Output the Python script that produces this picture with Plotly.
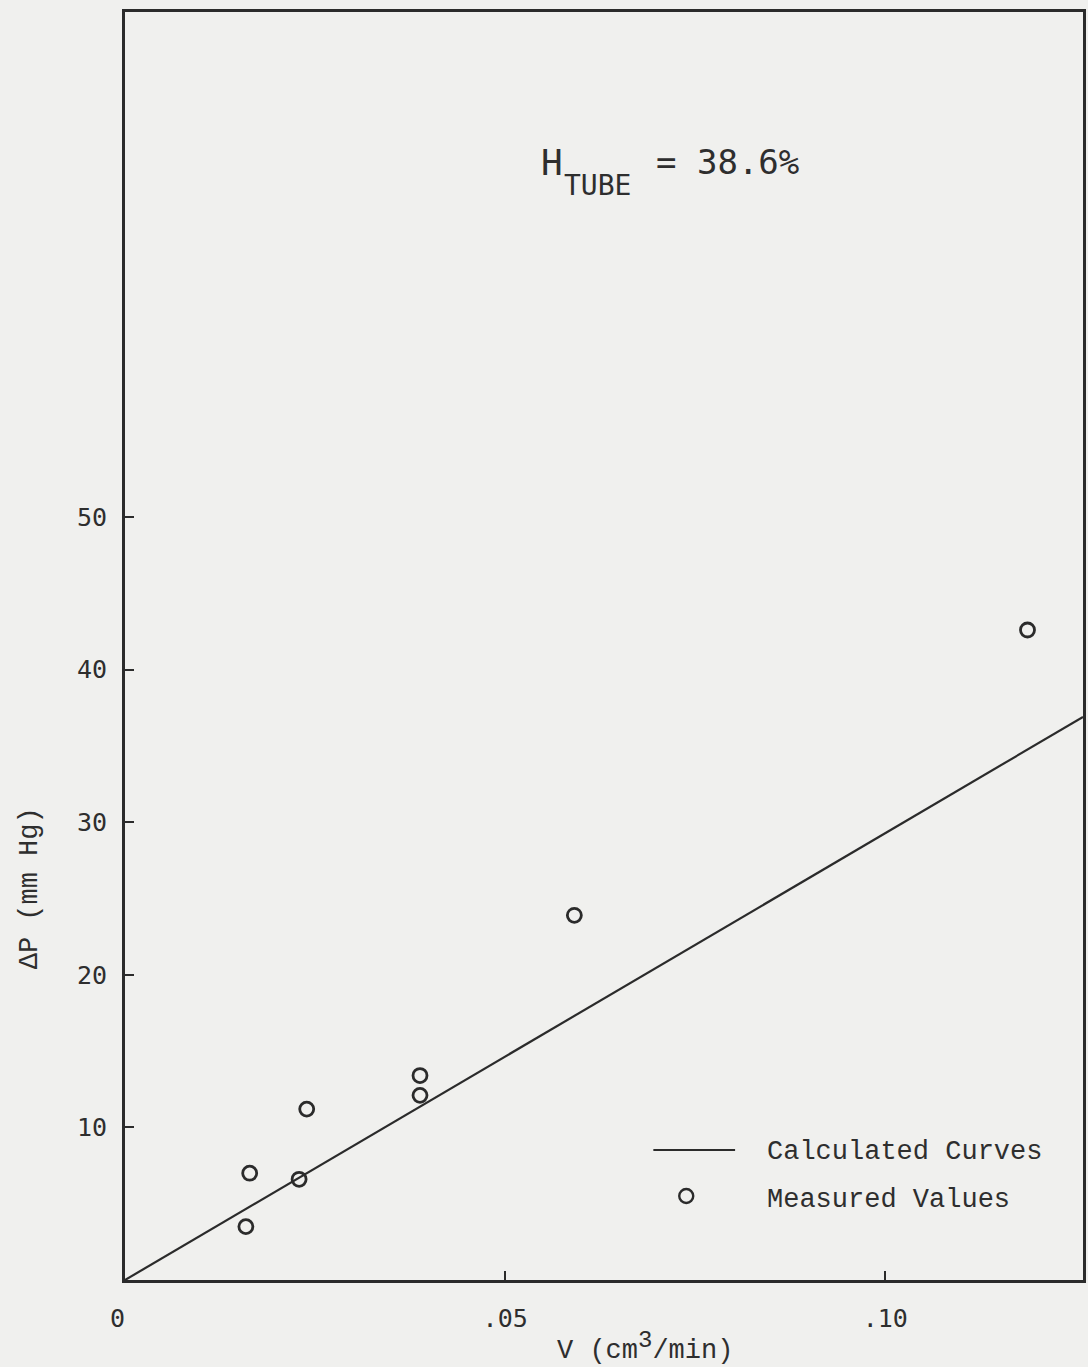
import plotly.graph_objects as go

# ---- data ----
v_measured = [0.0164, 0.0159, 0.0229, 0.0239, 0.0388, 0.0388, 0.0591, 0.1187]
dp_measured = [7.0, 3.5, 6.6, 11.2, 13.4, 12.1, 23.9, 42.6]
v_calc = [0.0, 0.126]
dp_calc = [0.0, 36.9]
x_tickvals = [0.0, 0.05, 0.10]
x_ticktext = ["0\u00a0", ".05", ".10"]
y_tickvals = [10, 20, 30, 40, 50]
y_ticktext = ["10", "20", "30", "40", "50"]

INK = "#2b2b2b"
TXT = "#2e2e2e"
PAPER = "#f0f0ee"
W, H = 1088, 1367
L, R, T, B = 125, 2, 12, 87
PW, PH = W - L - R, H - T - B

def px(x):
    return (x - L) / PW

def py(y):
    return (H - B - y) / PH

fig = go.Figure()
fig.add_trace(go.Scatter(x=v_calc, y=dp_calc, mode="lines",
                         line=dict(color=INK, width=2.2),
                         showlegend=False, hoverinfo="skip"))
fig.add_trace(go.Scatter(x=v_measured, y=dp_measured, mode="markers",
                         marker=dict(symbol="circle-open", size=14,
                                     color=INK, line=dict(color=INK, width=2.8)),
                         showlegend=False))

mono = "DejaVu Sans Mono"
serif = "Liberation Mono"

fig.update_layout(
    width=W, height=H,
    margin=dict(l=L, r=R, t=T, b=B),
    paper_bgcolor=PAPER, plot_bgcolor=PAPER,
    showlegend=False,
    xaxis=dict(range=[0, 0.126], showgrid=False, zeroline=False,
               showline=True, linecolor=INK, linewidth=2.8, mirror=True,
               ticks="inside", ticklen=9, tickwidth=2, tickcolor=INK,
               tickvals=x_tickvals, ticktext=x_ticktext,
               tickfont=dict(family=mono, size=25, color=TXT),
               ticklabelstandoff=14),
    yaxis=dict(range=[0, 83.1], showgrid=False, zeroline=False,
               showline=True, linecolor=INK, linewidth=2.8, mirror=True,
               ticks="inside", ticklen=9, tickwidth=2, tickcolor=INK,
               tickvals=y_tickvals, ticktext=y_ticktext,
               tickfont=dict(family=mono, size=25, color=TXT),
               ticklabelstandoff=10),
)

annotations = [
    dict(text="H", x=px(540), y=py(162), xanchor="left",
         yanchor="middle", font=dict(family=mono, size=36, color=TXT)),
    dict(text="TUBE", x=px(563), y=py(185), xanchor="left",
         yanchor="middle", font=dict(family=mono, size=28, color=TXT)),
    dict(text="= 38.6%", x=px(656), y=py(162), xanchor="left",
         yanchor="middle", font=dict(family=mono, size=34, color=TXT)),
    dict(text="V (cm<sup><span style=\"font-size:24px\">3</span></sup>/min)",
         x=px(647), y=py(1347), xanchor="center",
         yanchor="middle", font=dict(family=serif, size=27, color=TXT)),
    dict(text="ΔP (mm Hg)", x=px(30), y=py(888), xanchor="center",
         yanchor="middle", textangle=-90, font=dict(family=serif, size=27, color=TXT)),
    dict(text="Calculated Curves", x=px(767), y=py(1152), xanchor="left",
         yanchor="middle", font=dict(family=serif, size=27, color=TXT)),
    dict(text="Measured Values", x=px(767), y=py(1200), xanchor="left",
         yanchor="middle", font=dict(family=serif, size=27, color=TXT)),
]
for a in annotations:
    a.update(xref="paper", yref="paper", showarrow=False)
fig.update_layout(annotations=annotations)

fig.add_shape(type="line", xref="paper", yref="paper",
              x0=px(655), x1=px(737), y0=py(1150), y1=py(1150),
              line=dict(color=INK, width=2))
fig.add_shape(type="circle", xref="paper", yref="paper",
              xsizemode="pixel", ysizemode="pixel",
              xanchor=px(688), yanchor=py(1196),
              x0=-7, x1=7, y0=-7, y1=7,
              line=dict(color=INK, width=2.4))

fig.write_html("out.html")
